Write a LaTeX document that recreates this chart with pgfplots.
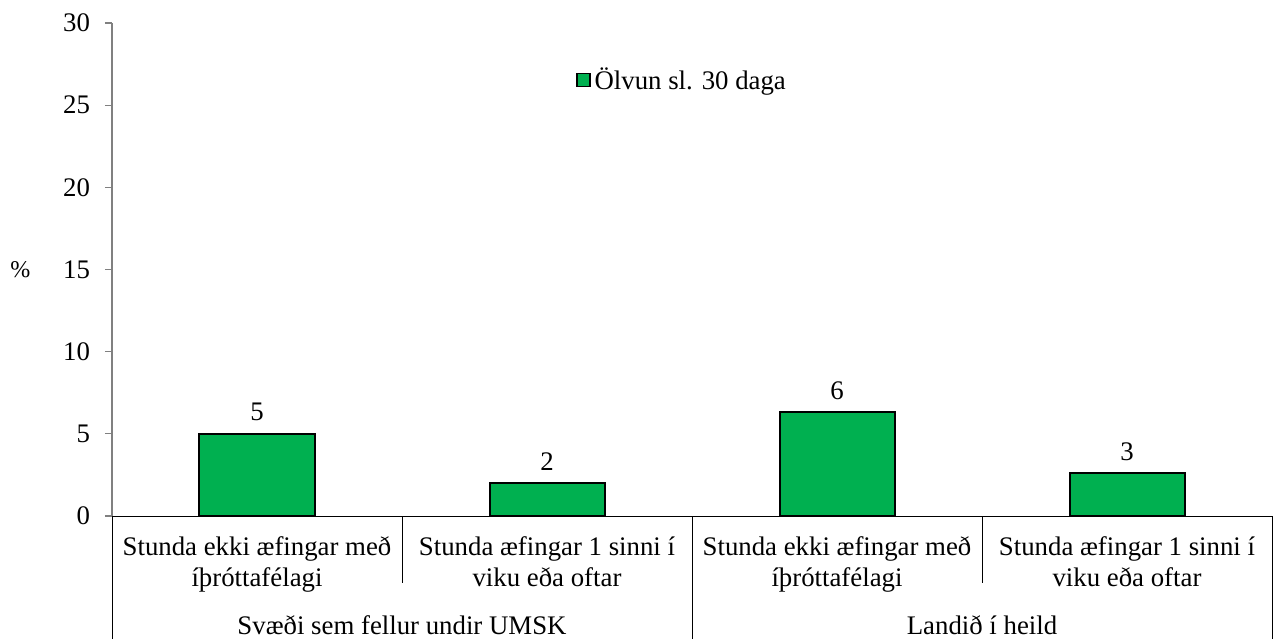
\documentclass[border=0pt]{standalone}
\usepackage{fontspec}
\setmainfont{Liberation Serif}
\usepackage{pgfplots}
\pgfplotsset{compat=1.18}
\definecolor{barGreen}{RGB}{0,176,80}
\definecolor{axGray}{RGB}{128,128,128}
\newcommand{\lblfont}{\fontsize{13.4}{15.5}\selectfont}
\begin{document}
\begin{tikzpicture}
    \path[use as bounding box] (-56pt,-61pt) rectangle (581pt,258pt);
    \begin{axis}[
        scale only axis,
        width=580pt,
        height=246.5pt,
        xmin=-0.5, xmax=3.5,
        ymin=0, ymax=30,
        ytick={0,5,...,30},
        xtick={0,1,2,3},
        xticklabels={{Stunda ekki æfingar með\\íþróttafélagi},
                     {Stunda æfingar 1 sinni í\\viku eða oftar},
                     {Stunda ekki æfingar með\\íþróttafélagi},
                     {Stunda æfingar 1 sinni í\\viku eða oftar}},
        xticklabel style={align=center, font=\lblfont, yshift=-3.5pt},
        yticklabel style={font=\lblfont, xshift=-4pt},
        /pgf/number format/assume math mode=true,
        axis lines=left,
        axis line style={-},
        x axis line style={black},
        y axis line style={axGray, line width=0.8pt},
        xtick style={draw=none},
        ytick style={axGray, line width=0.6pt},
        tick align=outside,
        major tick length=3.5pt,
        ylabel={\%},
        ylabel style={rotate=-90, at={(rel axis cs:-0.079,0.5)}, anchor=center, font=\fontsize{12}{14}\selectfont},
        legend style={draw=none, fill=none, at={(rel axis cs:0.400,0.884)}, anchor=west,
            font=\lblfont, inner sep=0pt},
        legend image code/.code={\draw[fill=barGreen, draw=black, line width=0.7pt] (0pt,-3.2pt) rectangle (6.4pt,3.2pt);},
        clip=false,
    ]
        \addplot[ybar, bar width=57.5pt, fill=barGreen, draw=black, line width=1pt,
            point meta=explicit symbolic,
            nodes near coords,
            nodes near coords style={font=\lblfont, yshift=2.5pt}]
            coordinates {
            (0,5.0) [5]
            (1,2.0) [2]
            (2,6.3) [6]
            (3,2.6) [3]
        };
        \legend{Ölvun sl. 30 daga}
        % category separators of the two-level x axis
        \draw[black] (axis cs:0.5,0) -- ([yshift=-33.5pt]axis cs:0.5,0);
        \draw[black] (axis cs:2.5,0) -- ([yshift=-33.5pt]axis cs:2.5,0);
        \draw[black] (axis cs:-0.5,0) -- ([yshift=-62pt]axis cs:-0.5,0);
        \draw[black] (axis cs:1.5,0) -- ([yshift=-62pt]axis cs:1.5,0);
        \draw[black] (axis cs:3.5,0) -- ([yshift=-62pt]axis cs:3.5,0);
        \node[anchor=base, font=\lblfont] at ([yshift=-59pt]axis cs:0.5,0) {Svæði sem fellur undir UMSK};
        \node[anchor=base, font=\lblfont] at ([yshift=-59pt]axis cs:2.5,0) {Landið í heild};
    \end{axis}
\end{tikzpicture}
\end{document}
